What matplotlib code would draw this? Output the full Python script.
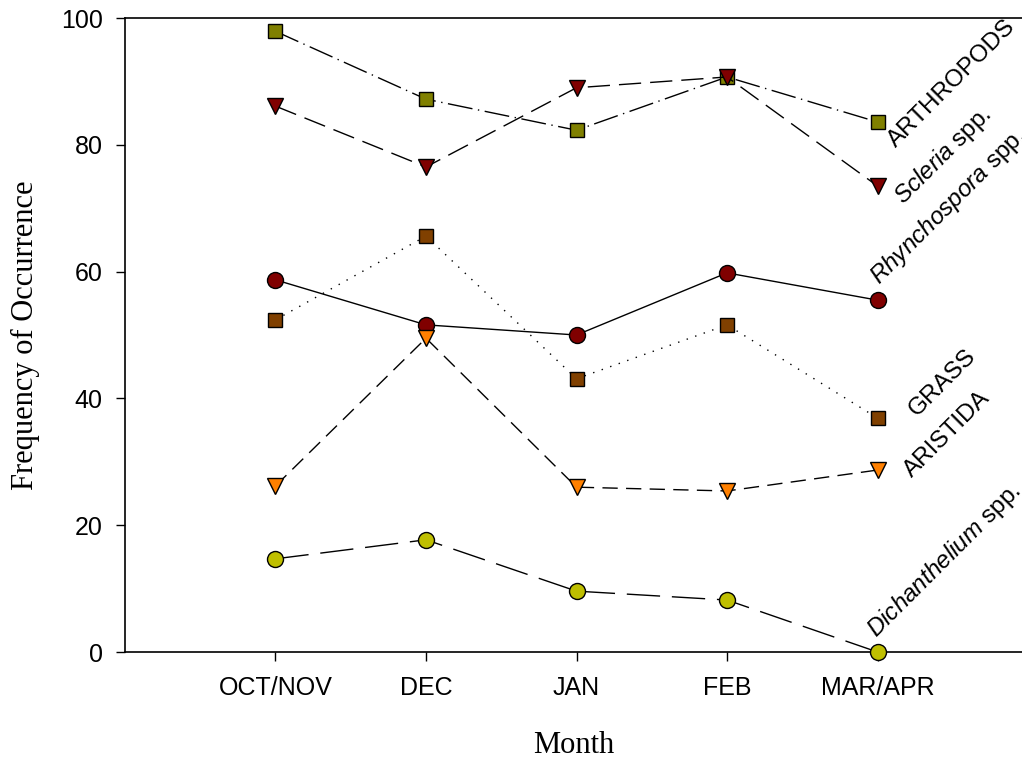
import matplotlib.pyplot as plt

plt.rcParams['font.family'] = ['Liberation Sans', 'DejaVu Sans']
plt.rcParams['mathtext.fontset'] = 'custom'
plt.rcParams['mathtext.rm'] = 'Liberation Sans'
plt.rcParams['mathtext.it'] = 'Liberation Sans:italic'

months = ['OCT/NOV', 'DEC', 'JAN', 'FEB', 'MAR/APR']
x = [1, 2, 3, 4, 5]

arthropods = [97.9, 87.2, 82.3, 90.7, 83.6]
scleria = [86.1, 76.5, 89.0, 90.7, 73.5]
rhynchospora = [58.7, 51.6, 50.0, 59.8, 55.5]
grass = [52.4, 65.6, 43.1, 51.6, 36.9]
aristida = [26.2, 49.5, 26.0, 25.4, 28.7]
dichanthelium = [14.7, 17.7, 9.6, 8.2, 0.0]

fig = plt.figure(figsize=(10.22, 7.6), dpi=100)
ax = fig.add_axes([0.1223, 0.1421, 0.8777, 0.8342])

ax.plot(x, arthropods, color='black', lw=1, dashes=(18, 4, 1, 4),
        marker='s', ms=10, mfc='#808000', mec='black', mew=1, clip_on=False)
ax.plot(x, scleria, color='black', lw=1, dashes=(16, 6.5),
        marker='v', ms=12, mfc='#800000', mec='black', mew=1, clip_on=False)
ax.plot(x, rhynchospora, color='black', lw=1, linestyle='-',
        marker='o', ms=11.5, mfc='#800000', mec='black', mew=1, clip_on=False)
ax.plot(x, grass, color='black', lw=1, dashes=(1, 5.5),
        marker='s', ms=10, mfc='#804000', mec='black', mew=1, clip_on=False)
ax.plot(x, aristida, color='black', lw=1, dashes=(11, 6),
        marker='v', ms=12, mfc='#ff8000', mec='black', mew=1, clip_on=False)
ax.plot(x, dichanthelium, color='black', lw=1, dashes=(24, 8.5),
        marker='o', ms=11.5, mfc='#bfbf00', mec='black', mew=1, clip_on=False, zorder=5)

lab = dict(rotation=45, rotation_mode='anchor', ha='left', va='baseline', fontsize=17.5)
ax.text(5.12, 79.5, 'ARTHROPODS', **lab)
ax.text(5.17, 70.5, r'$\mathit{Scleria}$ spp.', **lab)
ax.text(5.01, 57.9, r'$\mathit{Rhynchospora}$ spp.', **lab)
ax.text(5.26, 37.1, 'GRASS', **lab)
ax.text(5.23, 27.4, 'ARISTIDA', **lab)
ax.text(4.99, 2.2, r'$\mathit{Dichanthelium}$ spp.', **lab)

ax.set_xlim(0, 5.96)
ax.set_ylim(0, 100)
ax.set_xticks(x)
ax.set_xticklabels(months)
ax.set_yticks([0, 20, 40, 60, 80, 100])
ax.tick_params(axis='both', direction='out', length=6.5, width=1, labelsize=18, pad=9.5)
ax.tick_params(axis='x', pad=11)
ax.spines['right'].set_visible(False)
for s in ['left', 'top', 'bottom']:
    ax.spines[s].set_linewidth(1.2)

ax.set_xlabel('Month', fontsize=22, family='Liberation Serif', labelpad=22)
ax.set_ylabel('Frequency of Occurrence', fontsize=22, family='Liberation Serif', labelpad=15)

fig.savefig('out.png', dpi=100)
